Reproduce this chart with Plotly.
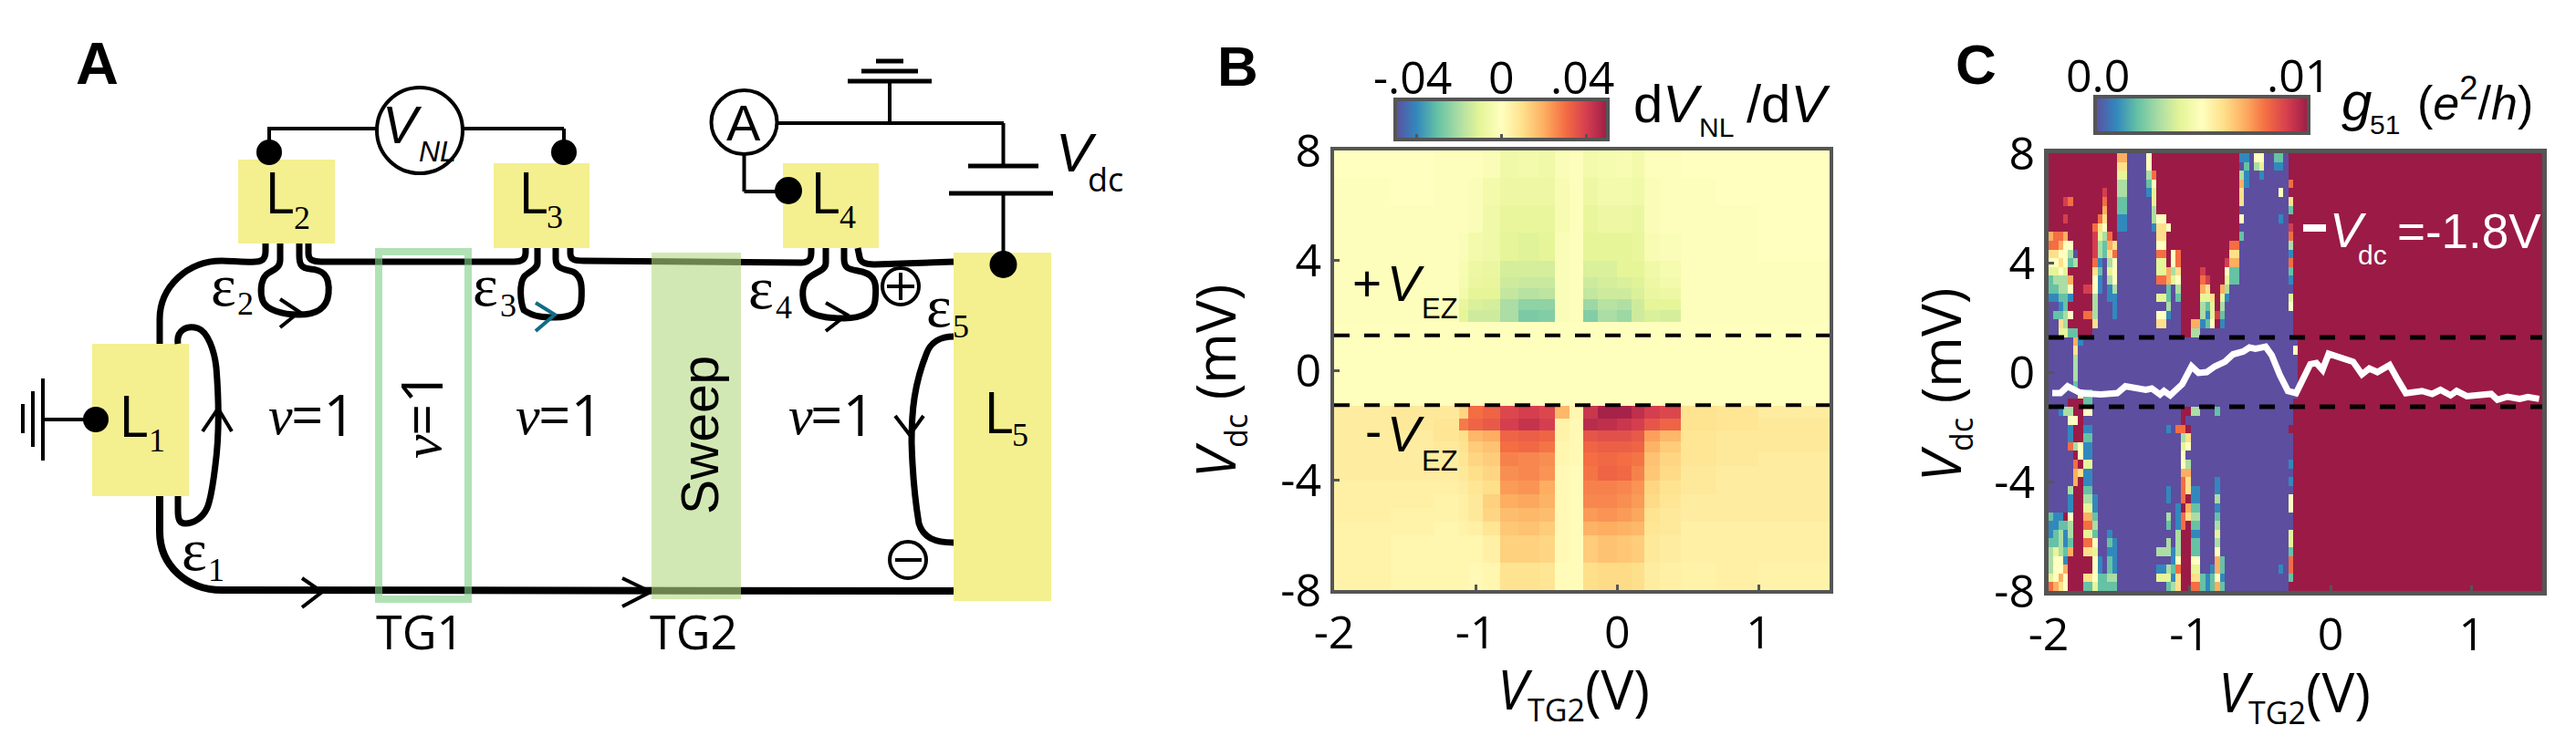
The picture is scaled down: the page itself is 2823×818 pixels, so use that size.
import plotly.graph_objects as go

W, H = 2823, 818
SANS = "Liberation Sans"
TICK = "Open Sans"
SERIF = "Liberation Serif"
FRAME = "#555555"

SPECTRAL = [[0.0, "#5D4EA0"], [0.1, "#3288BD"], [0.2, "#66C2A5"], [0.3, "#ABDDA4"],
            [0.4, "#E6F598"], [0.5, "#FFFFBF"], [0.6, "#FEE08B"], [0.7, "#FDAE61"],
            [0.8, "#F46D43"], [0.9, "#D53E4F"], [1.0, "#9B1B46"]]

x_ticks = [-2, -1, 0, 1]
x_tick_text = ["-2", "-1", "0", "1"]
y_ticks = [-8, -4, 0, 4, 8]
y_tick_text = ["-8", "-4", "0", "4", "8"]
v_ez = 1.27

# Panel B: dV_NL/dV in units of 0.001, rows from top to bottom
b_x = [-2, -1.6, -1.3, -1.12, -1.05, -.95, -.83, -.7, -.55, -.44, -.34, -.24, -.14, 0, .1, .19, .3, .45, .7, 1, 1.5]
b_y = [8, 7, 6, 5, 4, 3.4, 3, 2.6, 2.2, 1.75, -1.3, -1.75, -2.2, -2.6, -3, -3.5, -4, -4.5, -5, -5.5, -6, -7, -8]
b_z = [
    [0, 0, -1, -1, -1, -2, -6, -5, -6, -2, -1, -5, -4, -3, -5, -1, -1, 0, 0, 0],
    [-1, 0, -1, -1, -2, -5, -7, -7, -7, -3, -1, -7, -5, -5, -6, -2, -1, -1, 0, 0],
    [-1, -1, -1, -1, -2, -6, -9, -9, -9, -3, -1, -9, -7, -7, -8, -2, -1, -1, -1, 0],
    [-1, -1, -1, -2, -5, -6, -10, -11, -10, -2, -1, -10, -10, -10, -9, -3, -2, -1, -1, 0],
    [-1, -1, -1, -3, -7, -8, -13, -13, -13, -2, -1, -12, -12, -10, -10, -6, -4, -1, -1, -1],
    [-1, -1, -1, -4, -8, -9, -14, -15, -15, -2, -1, -14, -13, -12, -11, -7, -5, -1, -1, -1],
    [-1, -1, -1, -5, -10, -10, -16, -18, -17, -2, -1, -16, -14, -14, -12, -8, -7, -1, -1, -1],
    [-1, -1, -1, -9, -12, -13, -20, -24, -24, -2, -1, -22, -18, -19, -14, -10, -10, -1, -1, -1],
    [-1, -1, -1, -10, -14, -14, -20, -27, -26, -2, -1, -26, -20, -22, -14, -12, -13, -1, -1, -1],
    [-.5, -.5, -.5, -.5, -.5, -.5, -.5, -.5, -.5, -.5, -.5, -.5, -.5, -.5, -.5, -.5, -.5, -.5, -.5, -.5],
    [6, 7, 7, 12, 30, 32, 38, 40, 38, 18, 3, 42, 48, 48, 44, 40, 38, 9, 8, 6],
    [6, 7, 8, 28, 32, 34, 40, 43, 40, 4, 2, 45, 44, 42, 40, 35, 32, 9, 8, 7],
    [6, 6, 8, 10, 18, 20, 32, 33, 32, 4, 2, 35, 36, 36, 34, 22, 18, 8, 7, 7],
    [6, 6, 7, 9, 14, 16, 30, 31, 29, 3, 2, 32, 33, 33, 32, 19, 14, 8, 7, 7],
    [6, 6, 6, 8, 12, 14, 27, 26, 25, 3, 2, 30, 31, 30, 29, 16, 12, 8, 7, 6],
    [6, 6, 6, 7, 10, 12, 25, 26, 24, 2, 1, 29, 32, 31, 27, 15, 11, 7, 6, 6],
    [5, 5, 5, 6, 8, 10, 23, 24, 20, 2, 1, 27, 27, 26, 24, 12, 9, 7, 6, 6],
    [5, 5, 4, 5, 7, 13, 20, 21, 19, 2, 1, 26, 26, 25, 23, 11, 8, 6, 6, 6],
    [5, 4, 4, 5, 7, 12, 17, 18, 17, 2, 1, 23, 24, 23, 21, 9, 7, 6, 6, 6],
    [4, 4, 3, 4, 5, 8, 15, 16, 14, 2, 1, 19, 20, 19, 18, 8, 7, 5, 5, 5],
    [4, 3, 3, 3, 3, 5, 13, 13, 12, 2, 1, 14, 16, 15, 14, 7, 6, 5, 5, 5],
    [4, 3, 3, 3, 2, 3, 9, 9, 8, 1, 1, 10, 11, 11, 10, 6, 5, 4, 5, 4],
]

# Panel C: g51 grid read cell by cell, '.' = 0.0, digits = n*0.001, '#' = 0.01
c_x_start = -2
c_x_end = 1.5
c_col_width = 0.03469
c_row_height = 0.32
c_rows = [
    "############## 77....5# ################# 11.55..22. ###",
    "############## 66....5# ################# .2.34..11. ###",
    "############## 44....38 ################# 31..1..... ###",
    "############## 33....25 ################# 71........ 8##",
    "###########9## 33....14 ################# 6.......5. ###",
    "###98######8## 22.....4 ################# 6......... 6##",
    "###########7## 22.....3 ################# .......... 2##",
    "###9######86## 11.....3 55############### 5.......1. ###",
    "#########865## 11.....1 665############## .......... 9##",
    "7887#####9438# ........ 66############### 2......... 8##",
    "88755####93276 ........ 55#############88 .......... 3##",
    "66553.###93268 ........ 88#58##########66 .......... 1##",
    "556523###81.35 ........ 44#58#########977 .......... 8##",
    "4454#####62.45 ........ 44736####9####522 .......... 2##",
    "23337####51.35 ........ 88745####89###422 .......... 1##",
    "22335##9951.13 ........ ..2.3####76##73.. .......... .##",
    "11221####3..11 ........ 442.2####446#41.. .......... 4##",
    "..12#####3...1 ........ ..3..####324#3... .......... 5##",
    ".2235##883...1 ........ 551..####31492... .......... .##",
    "..63#####6.... ........ 66...##77125#1... .......... .##",
    "..4422###..... ........ .....##33........ .......... .##",
    ".....71....... ........ ................. .......... ..#",
    ".....6........ ........ ................. .......... .5#",
    ".....3........ ........ ................. .......... ..#",
    ".....3........ ........ ................. .......... ..#",
    ".....3........ ........ ................. .......... ..#",
    ".....2........ ........ ................. .......... ..#",
    "......522..... ........ ................. .......... ..#",
    "....###22..... ........ ................. .......... .##",
    "..133##55..... ........ .....##33...2.... .......... .##",
    "....55#....... ........ .....#........... .......... .##",
    "....1##11..... ........ ..1.88#.......... .......... ###",
    "....1##22..... ........ .....36.......... .......... .##",
    "....83511..... ........ .....45.......... .......... .##",
    ".....#511..... ........ .....5........... .......... .##",
    ".....8#44..... ........ .....53.......... .......... 1##",
    ".....7611..... ........ .....77.......... .......... .##",
    ".....7#11..... ........ .....86.....1.... .......... 1##",
    "....3##22..... ........ ..1..8611...1.... .......... .##",
    "....1##331.... ........ ..1..8#11...3.... .......... 5##",
    "....1##441.... ........ ....1#722...1.... .......... 5##",
    "211#5##772.... ........ ..3.18633...2.... .......... .##",
    "11223##883.... ........ ..2.18#22...3.... .......... .##",
    "12313##442..1. ........ ....3##11...4.... .......... 4##",
    "22312##885..21 ........ ..3.3##22...3.... .......... 4##",
    "34327##664..11 ........ 33313##22...5.... .......... 2##",
    "3551#####51.21 ........ ...15##55...72... .......... 8##",
    "3557#####51.21 ........ 11328##44..172... ........1. 8##",
    "4575###6652233 ........ 44416##6621251... .......... 2##",
    "8765###2242222 ........ ..236##8821272... .......... ###",
]

# Panel C: white trace at Vdc = -1.8 V
line_x = [-1.974, -1.916, -1.865, -1.772, -1.628, -1.513, -1.455, -1.311, -1.268, -1.21, -1.182, -1.138,
          -1.052, -0.986, -0.937, -0.879, -0.821, -0.749, -0.692, -0.62, -0.576, -0.533, -0.461, -0.418,
          -0.36, -0.303, -0.245, -0.202, -0.144, -0.101, -0.058, -0.014, 0.058, 0.159, 0.222, 0.274,
          0.331, 0.418, 0.476, 0.533, 0.648, 0.72, 0.778, 0.85, 0.893, 0.965, 1.138, 1.182, 1.254,
          1.34, 1.398, 1.478]
line_y = [-0.77, -0.77, -0.52, -0.77, -0.82, -0.77, -0.52, -0.65, -0.6, -0.82, -0.69, -0.85,
          -0.44, 0.21, -0.03, 0, 0.21, 0.38, 0.65, 0.75, 0.9, 0.85, 0.93, 0.62,
          -0.11, -0.69, -0.77, -0.28, 0.29, 0.33, 0.08, 0.67, 0.57, 0.38, -0.08, 0.13,
          0, 0.26, -0.28, -0.77, -0.69, -0.8, -0.65, -0.85, -0.69, -0.88, -0.8, -1.01, -0.9,
          -0.98, -0.91, -0.98]

LEVEL = {".": 0}
LEVEL.update({str(d): d for d in range(1, 10)})
LEVEL["#"] = 10
c_z = [[LEVEL[ch] * 0.001 for ch in row.replace(" ", "")] for row in c_rows]
c_x = [c_x_start + i * c_col_width for i in range(len(c_z[0]))] + [c_x_end]
c_y = [8 - r * c_row_height for r in range(len(c_z) + 1)]

fig = go.Figure()
fig.add_trace(go.Heatmap(
    x=b_x, y=b_y[::-1], z=[[v * 0.001 for v in row] for row in b_z[::-1]],
    xaxis="x", yaxis="y", colorscale=SPECTRAL, zmin=-0.05, zmax=0.05, hoverinfo="skip",
    colorbar=dict(orientation="h", x=1529 / W, xanchor="left", y=1 - 109 / H, yanchor="top",
                  len=233, lenmode="pixels", thickness=44, thicknessmode="pixels", xpad=0, ypad=0,
                  outlinewidth=4, outlinecolor=FRAME, ticks="inside", ticklen=8, tickwidth=3,
                  tickcolor=FRAME, tickvals=[-0.04, 0, 0.04], showticklabels=False)))
fig.add_trace(go.Heatmap(
    x=c_x, y=c_y[::-1], z=c_z[::-1],
    xaxis="x2", yaxis="y2", colorscale=SPECTRAL, zmin=0, zmax=0.01, hoverinfo="skip",
    colorbar=dict(orientation="h", x=2296 / W, xanchor="left", y=1 - 106 / H, yanchor="top",
                  len=234, lenmode="pixels", thickness=40, thicknessmode="pixels", xpad=0, ypad=0,
                  outlinewidth=4, outlinecolor=FRAME, ticks="", showticklabels=False)))
for ax_x, ax_y, width, rng in (("x", "y", 4, [-2, 1.5]), ("x2", "y2", 5, [c_x_start, c_x_end])):
    for level in (v_ez, -v_ez):
        fig.add_trace(go.Scatter(x=rng, y=[level, level], mode="lines", xaxis=ax_x, yaxis=ax_y,
                                 line=dict(color="black", width=width, dash="17px,16px"),
                                 showlegend=False, hoverinfo="skip"))
fig.add_trace(go.Scatter(x=line_x, y=line_y, mode="lines", xaxis="x2", yaxis="y2",
                         line=dict(color="white", width=7), showlegend=False, hoverinfo="skip"))

# ---------- schematic, panel A, drawn on a pixel-sized overlay axis ----------
shapes = []


def S(**kw):
    kw.setdefault("xref", "x3")
    kw.setdefault("yref", "y3")
    shapes.append(kw)


def box(x0, y0, x1, y1, fill="#F4F08F"):
    S(type="rect", x0=x0, y0=y0, x1=x1, y1=y1, fillcolor=fill, line=dict(width=0))


def path(d, width=7, color="black"):
    S(type="path", path=d, line=dict(color=color, width=width))


def seg(x0, y0, x1, y1, width=4, color="black"):
    S(type="line", x0=x0, y0=y0, x1=x1, y1=y1, line=dict(color=color, width=width))


def ring(cx, cy, rx, ry, width=4, fill="rgba(0,0,0,0)"):
    S(type="circle", x0=cx - rx, x1=cx + rx, y0=cy - ry, y1=cy + ry, fillcolor=fill,
      line=dict(color="black", width=width))


def dot(cx, cy, r=14):
    ring(cx, cy, r, r, width=0, fill="black")


def chevron(tip, a, b, color="black"):
    path(f"M{a[0]},{a[1]} L{tip[0]},{tip[1]} L{b[0]},{b[1]}", width=4, color=color)


box(101, 377, 207, 544)
box(261, 175, 367, 267)
box(541, 179, 646, 272)
box(858, 179, 963, 272)
box(1045, 277, 1152, 659)

path("M175,377 L175,350 C175,315 205,286 243,286 C255,286 265,288 280,287 C288,287 291,283 291,275 L291,267")
path("M175,544 L175,583 C175,620 205,647 243,647 L1045,648", width=8)
path("M338,267 L338,278 C338,285 343,287 352,287 L563,287 C572,287 576,284 576,277 L576,272")
path("M625,272 L625,278 C625,285 630,286 640,286 L878,288 C886,288 889,285 889,277 L889,272")
path("M940,272 L942,282 C943,288 948,290 958,290 L1045,287")
path("M307,267 L307,285 C307,295 298,296 292,301 C285,308 285,322 288,330 C292,340 310,345 327,345 "
     "C345,345 358,340 360,322 C362,300 352,296 340,295 C330,294 328,290 328,280 L328,267")
path("M589,272 L589,288 C589,296 578,298 574,304 C569,312 570,330 574,340 C585,348 598,348 609,348 "
     "C625,348 636,342 637,330 C638,315 638,303 628,298 C618,295 609,295 609,284 L609,272")
path("M905,272 L905,288 C905,298 892,298 885,306 C877,315 879,332 885,340 C895,349 915,349 925,349 "
     "C945,349 958,342 959,330 C961,312 960,302 945,298 C932,295 925,296 925,284 L925,272")
path("M195,377 C193,362 205,356 217,360 C228,364 235,385 237,403 C240,440 240,480 236,510 "
     "C233,535 230,550 227,557 C222,568 212,574 203,574 C197,574 195,570 195,560 L195,544")
path("M1045,369 C1030,369 1020,376 1016,386 C1002,420 999,450 999,485 C1000,520 1003,550 1007,574 "
     "C1012,590 1025,595 1045,595")

chevron((353, 649), (331, 634), (331, 666))
chevron((713, 649), (682, 634), (682, 665))
chevron((239, 448), (222, 473), (254, 473))
chevron((328, 342), (307, 328), (307, 359))
chevron((608, 345), (587, 332), (587, 363), color="#126B85")
chevron((928, 345), (905, 332), (905, 363))
chevron((997, 477), (981, 456), (1012, 456))

# instruments
seg(293, 141, 413, 141)
seg(507, 141, 618, 141)
seg(295, 141, 295, 160)
seg(618, 141, 618, 160)
ring(460, 143, 47, 47)
dot(295, 167)
dot(618, 167)
ring(815.5, 134, 36, 35)
seg(851, 135, 1100, 135)
seg(1099.5, 135, 1099.5, 182)
seg(1061, 182, 1138, 182, width=5)
seg(1040, 212, 1154, 212, width=5)
seg(1099.5, 212, 1099.5, 285)
dot(1099.5, 290, 15)
seg(815.5, 169, 815.5, 210)
seg(815.5, 210, 860, 210)
dot(864, 209, 15)
seg(975, 135, 975, 89)
seg(929, 89, 1021, 89, width=5)
seg(944, 78, 1006, 78, width=5)
seg(960, 67, 990, 67, width=5)
seg(47, 460, 100, 460)
seg(47, 415, 47, 505)
seg(36, 429, 36, 490)
seg(25, 443, 25, 475)
dot(105, 460)
ring(987, 314, 20, 20)
seg(972, 314, 1002, 314, width=4)
seg(987, 299, 987, 329, width=4)
ring(995, 614, 20, 20)
seg(981, 614, 1010, 614, width=4)

# translucent gates above the edge lines
S(type="rect", x0=415, y0=276, x1=513, y1=657, line=dict(color="rgba(127,208,137,0.62)", width=8),
  fillcolor="rgba(0,0,0,0)")
box(714, 277, 812, 657, fill="rgba(180,217,130,0.6)")

# legend dash of the white trace in panel C
seg(2524, 250, 2549, 250, width=8, color="white")

# ---------- text ----------
anns = []


def T(x, y, s, size, fam=SANS, color="black", angle=0, xa="center"):
    anns.append(dict(xref="x3", yref="y3", x=x, y=y, text=s, showarrow=False, xanchor=xa, yanchor="middle",
                     textangle=angle, font=dict(family=fam, size=size, color=color)))


T(106, 69, "<b>A</b>", 65)
T(1356, 72, "<b>B</b>", 62)
T(2165, 70, "<b>C</b>", 62)

for x, y, sx, sy, n in ((146, 455, 172, 483, "1"), (306, 210, 331, 239, "2"), (584, 210, 608, 238, "3"),
                        (904, 210, 929, 238, "4"), (1094, 451, 1118, 477, "5")):
    T(x, y, "L", 62, TICK)
    T(sx, sy, n, 36, SERIF)
for x, y, sx, sy, n in ((213, 602, 237, 625, "1"), (245, 312, 269, 333, "2"), (532, 312, 557, 335, "3"),
                        (834, 315, 859, 337, "4"), (1029, 335, 1053, 358, "5")):
    T(x, y, "ε", 66, SERIF)
    T(sx, sy, n, 36, SERIF)
for vx, eqx in ((307, 354), (578, 625), (877, 923)):
    T(vx, 456, "<i>ν</i>", 60, SERIF)
    T(eqx, 454, "=1", 62, TICK)
T(463, 490, "<i>ν</i>", 60, SERIF, angle=-90)
T(461, 443, "=1", 62, TICK, angle=-90)
T(767, 477, "Sweep", 57, SANS, angle=-90)
T(460, 691, "TG1", 52, TICK)
T(760, 691, "TG2", 52, TICK)
T(441, 136, "<i>V</i>", 58)
T(479, 166, "<i>NL</i>", 32)
T(815, 134, "A", 56)
T(1179, 167, "<i>V</i>", 60)
T(1211, 196, "dc", 36, TICK)

# panel B text
T(1548, 84, "-.04", 50, TICK)
T(1645, 84, "0", 50, TICK)
T(1734, 84, ".04", 50, TICK)
T(1788, 113, "d<i>V</i>", 58, xa="left")
T(1860, 139, "NL", 30, xa="left")
T(1912, 113, "/d<i>V</i>", 58, xa="left")
T(1498, 311, "+", 55)
T(1540, 311, "<i>V</i>", 55)
T(1578, 338, "EZ", 31)
T(1505, 473, "-", 55)
T(1540, 476, "<i>V</i>", 55)
T(1578, 505, "EZ", 31)

# panel C text
T(2299, 82, "0.0", 50, TICK)
T(2519, 82, ".01", 50, TICK)
T(2582, 111, "<i>g</i>", 60)
T(2613, 136, "51", 30)
T(2712, 109, "(<i>e</i><sup>2</sup>/<i>h</i>)", 52)
T(2573, 252, "<i>V</i>", 54, color="white")
T(2600, 279, "dc", 30, color="white")
T(2706, 253, "=-1.8V", 53, color="white")

# axis titles
SUB = '<sub><span style="font-size:34px">%s</span></sub>'
xt = "<i>V</i>" + SUB % "TG2" + "(V)"
yt = "<i>V</i>" + SUB % "dc" + " (mV)"
T(1724, 757, xt, 60, TICK)
T(1333, 418, yt, 60, TICK, angle=-90)
T(2514, 760, xt, 60, TICK)
T(2128, 422, yt, 60, TICK, angle=-90)


def cart_axis(domain, anchor, vals, text, rng, lw):
    return dict(domain=domain, anchor=anchor, range=rng, tickvals=vals, ticktext=text,
                ticks="inside", ticklen=6, tickwidth=3, tickcolor=FRAME, showline=True, mirror=True,
                linecolor=FRAME, linewidth=lw, showgrid=False, zeroline=False,
                tickfont=dict(family=TICK, size=50, color="black"))


fig.update_layout(
    width=W, height=H, margin=dict(l=0, r=0, t=0, b=0, pad=0, autoexpand=False), autosize=False,
    paper_bgcolor="white", plot_bgcolor="rgba(0,0,0,0)", showlegend=False, shapes=shapes, annotations=anns,
    xaxis=cart_axis([1462 / W, 2005 / W], "y", x_ticks, x_tick_text, [-2, 1.5], 4),
    yaxis=cart_axis([1 - 647 / H, 1 - 165 / H], "x", y_ticks, y_tick_text, [-8, 8], 4),
    xaxis2=cart_axis([2245 / W, 2786 / W], "y2", x_ticks, x_tick_text, [c_x_start, c_x_end], 5),
    yaxis2=cart_axis([1 - 648 / H, 1 - 168 / H], "x2", y_ticks, y_tick_text, [-8, 8], 5),
    xaxis3=dict(domain=[0, 1], anchor="y3", range=[0, W], visible=False, fixedrange=True),
    yaxis3=dict(domain=[0, 1], anchor="x3", range=[H, 0], visible=False, fixedrange=True),
)

fig.write_html("out.html", config=dict(displayModeBar=False), post_script="document.body.style.margin='0';")
